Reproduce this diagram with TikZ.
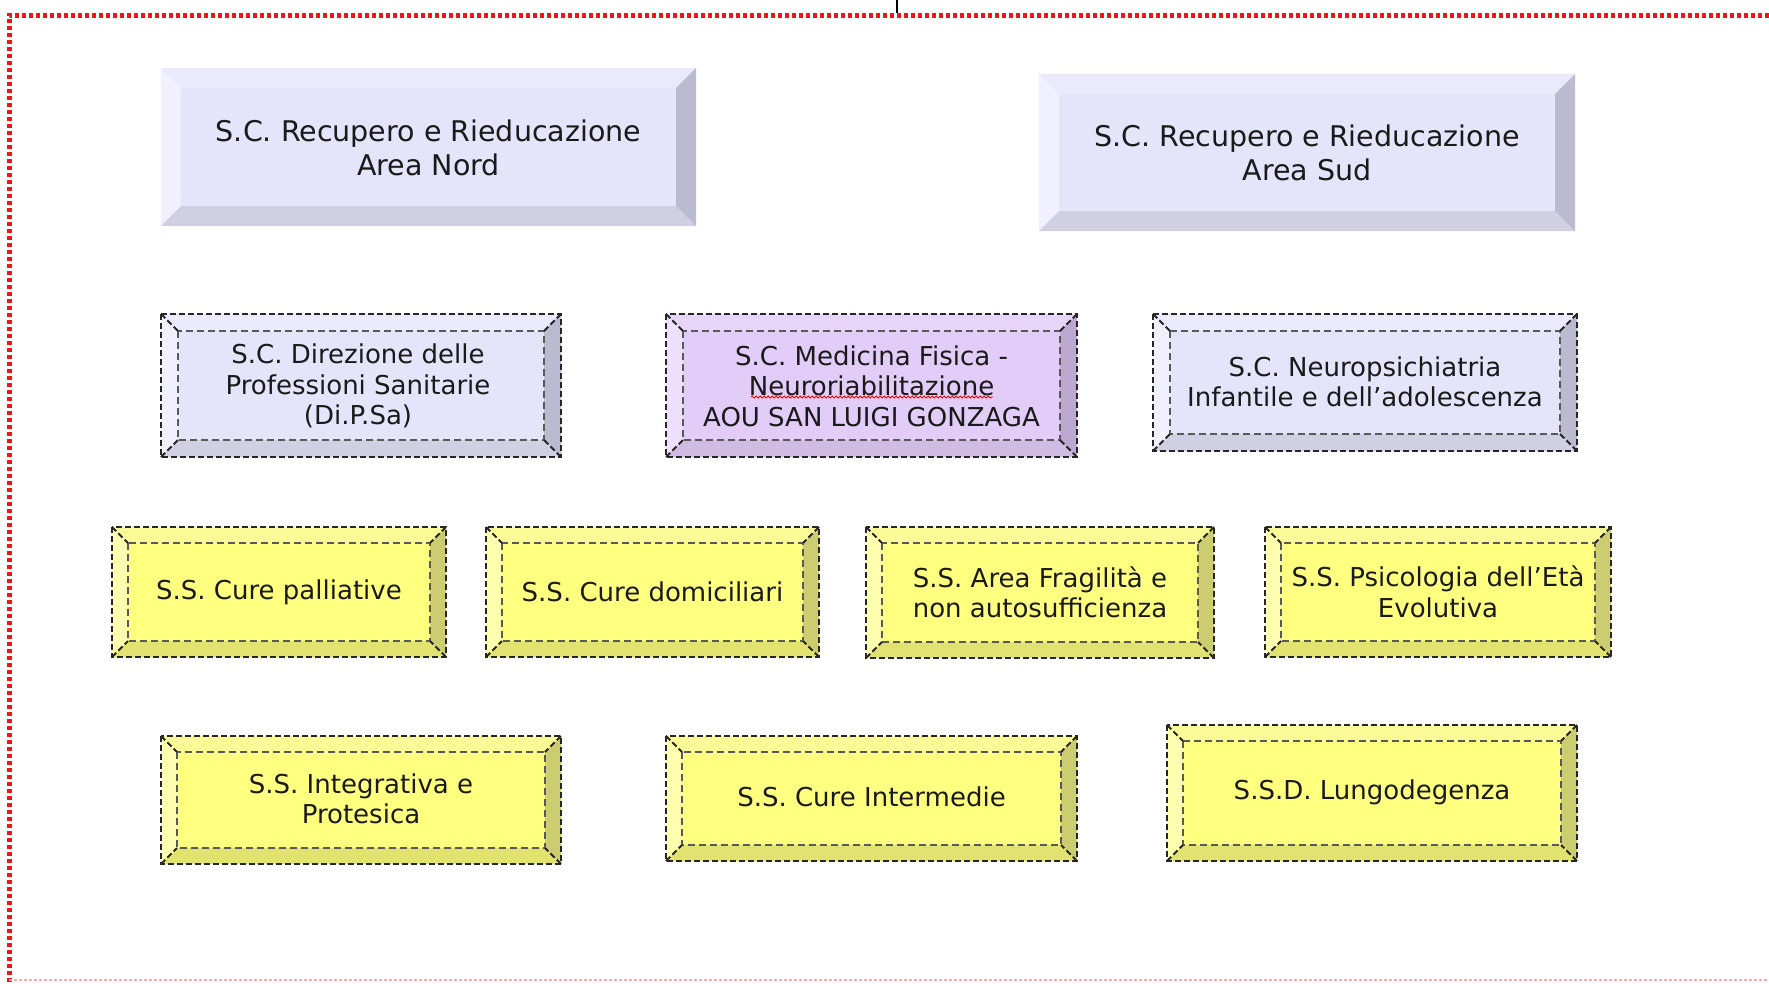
\documentclass[tikz,border=0pt]{standalone}
\usepackage{fontspec}
\setmainfont{DejaVu Sans}
\usetikzlibrary{decorations.pathmorphing}
\definecolor{lavF}{RGB}{228,228,250}
\definecolor{lavT}{RGB}{234,234,252}
\definecolor{lavL}{RGB}{240,240,254}
\definecolor{lavR}{RGB}{186,186,208}
\definecolor{lavB}{RGB}{208,208,226}
\definecolor{purF}{RGB}{226,204,248}
\definecolor{purT}{RGB}{231,213,249}
\definecolor{purL}{RGB}{237,224,252}
\definecolor{purR}{RGB}{188,168,208}
\definecolor{purB}{RGB}{208,188,226}
\definecolor{yelF}{RGB}{255,255,128}
\definecolor{yelT}{RGB}{250,250,150}
\definecolor{yelL}{RGB}{255,255,176}
\definecolor{yelR}{RGB}{204,204,112}
\definecolor{yelB}{RGB}{226,226,112}
\definecolor{txtc}{RGB}{26,26,26}
\definecolor{framered}{RGB}{240,20,20}
\definecolor{framepink}{RGB}{250,170,170}
\tikzset{
  bigtxt/.style={align=center, text=txtc, font=\fontsize{28.5}{33.5}\selectfont, inner sep=0pt},
  smalltxt/.style={align=center, text=txtc, font=\fontsize{26}{30.5}\selectfont, inner sep=0pt},
  dashline/.style={draw=black!85, line width=2pt, dash pattern=on 6pt off 3pt},
  dashinner/.style={draw=black!65, line width=2pt, dash pattern=on 7pt off 4pt},
  redframe/.style={draw=framered, line width=5pt, dash pattern=on 4pt off 3pt},
}
% #1 name, #2 x1, #3 y1, #4 x2, #5 y2, #6 inset, #7 palette, #8 outline flag, #9 node spec
\newcommand{\bvbox}[9]{%
  \fill[#7F] (#2,#3) rectangle (#4,#5);
  \fill[#7T] (#2,#3) -- (#4,#3) -- (#4-#6,#3+#6) -- (#2+#6,#3+#6) -- cycle;
  \fill[#7L] (#2,#3) -- (#2+#6,#3+#6) -- (#2+#6,#5-#6) -- (#2,#5) -- cycle;
  \fill[#7B] (#2,#5) -- (#2+#6,#5-#6) -- (#4-#6,#5-#6) -- (#4,#5) -- cycle;
  \fill[#7R] (#4,#3) -- (#4,#5) -- (#4-#6,#5-#6) -- (#4-#6,#3+#6) -- cycle;
  \ifx\relax#8\relax\else
  \draw[dashline] (#2,#3) rectangle (#4,#5);
  \draw[dashinner] (#2+#6,#3+#6) rectangle (#4-#6,#5-#6);
  \draw[dashline] (#2,#3) -- (#2+#6,#3+#6) (#4,#3) -- (#4-#6,#3+#6)
     (#2,#5) -- (#2+#6,#5-#6) (#4,#5) -- (#4-#6,#5-#6);
  \fi
  \node #9;
}
\begin{document}
\begin{tikzpicture}[x=1pt,y=-1pt]
\useasboundingbox (0,0) rectangle (1769,983);
\fill[white] (0,0) rectangle (1769,983);
% frame
\draw[redframe] (1769,15) -- (9,15) -- (9,983);
\draw[draw=framepink, line width=2pt, dash pattern=on 3pt off 2pt] (9,980) -- (1769,980);
\draw[black, line width=1.2pt] (897,0) -- (897,13);
% top row
\bvbox{nord}{161}{68}{696}{226}{20}{lav}{}{[bigtxt] (nord) at (428.5,148) {S.C. Recupero e Rieducazione\\Area Nord}}
\bvbox{sud}{1039}{74}{1575}{231}{20}{lav}{}{[bigtxt] (sud) at (1307,153) {S.C. Recupero e Rieducazione\\Area Sud}}
% second row
\bvbox{dipsa}{161}{314}{561}{457}{17}{lav}{d}{[smalltxt] (dipsa) at (358,386) {S.C. Direzione delle\\Professioni Sanitarie\\(Di.P.Sa)}}
\bvbox{medfis}{666}{314}{1077}{457}{17}{pur}{d}{[smalltxt] (medfis) at (871.5,386) {S.C. Medicina Fisica -\\Neuroriabilitazione\\AOU SAN LUIGI GONZAGA}}
\bvbox{neuro}{1153}{314}{1577}{451}{17}{lav}{d}{[smalltxt] (neuro) at (1365,382) {S.C. Neuropsichiatria\\Infantile e dell’adolescenza}}
\draw[red, line width=0.9pt, decorate, decoration={snake, amplitude=1pt, segment length=4pt}] (751,397) -- (993,397);
% third row
\bvbox{palli}{112}{527}{446}{657}{16}{yel}{d}{[smalltxt] (palli) at (279,592) {S.S. Cure palliative}}
\bvbox{domic}{486}{527}{819}{657}{16}{yel}{d}{[smalltxt] (domic) at (652.5,592) {S.S. Cure domiciliari}}
\bvbox{fragil}{866}{527}{1214}{658}{16}{yel}{d}{[smalltxt] (fragil) at (1040,592.5) {S.S. Area Fragilità e\\non autosufficienza}}
\bvbox{psico}{1265}{527}{1611}{657}{16}{yel}{d}{[smalltxt] (psico) at (1438,592) {S.S. Psicologia dell’Età\\Evolutiva}}
% fourth row
\bvbox{integr}{161}{736}{561}{864}{16}{yel}{d}{[smalltxt] (integr) at (361,799) {S.S. Integrativa e\\Protesica}}
\bvbox{interm}{666}{736}{1077}{861}{16}{yel}{d}{[smalltxt] (interm) at (871.5,797) {S.S. Cure Intermedie}}
\bvbox{lungo}{1167}{725}{1577}{861}{16}{yel}{d}{[smalltxt] (lungo) at (1372,792) {S.S.D. Lungodegenza}}
\end{tikzpicture}
\end{document}
